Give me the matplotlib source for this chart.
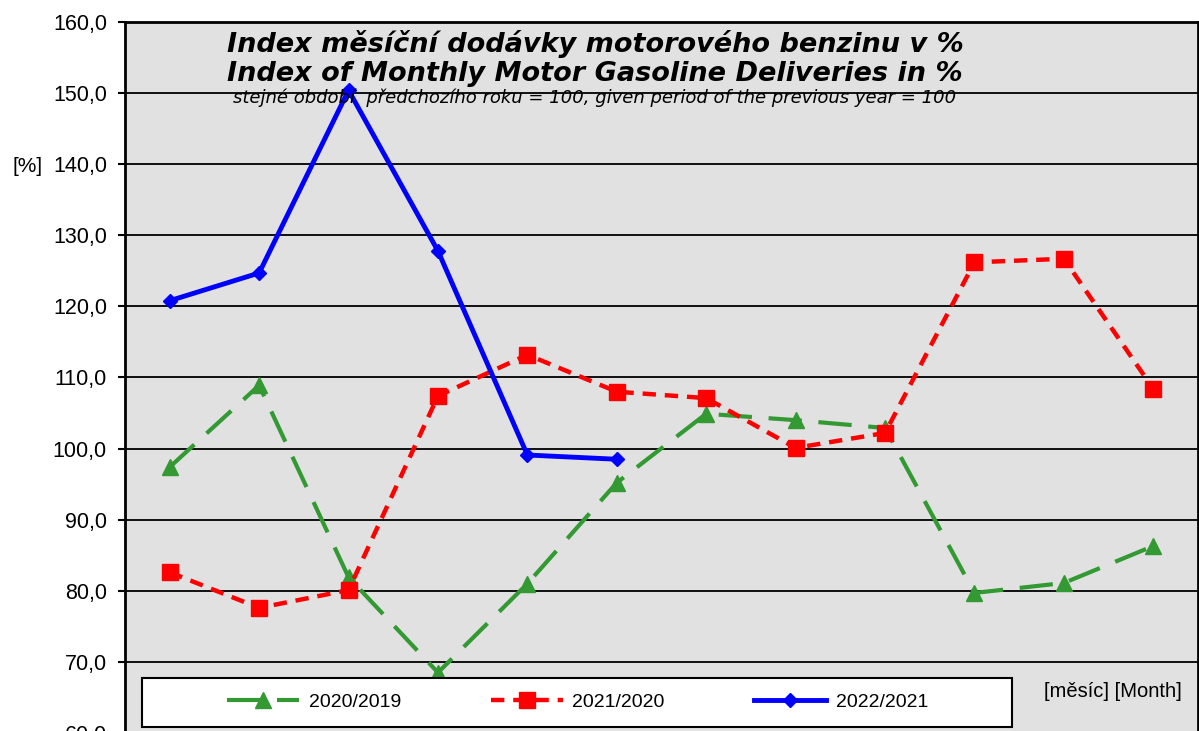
import numpy as np
import matplotlib.pyplot as plt
from matplotlib.patches import Rectangle

# months
months = np.arange(1, 13)

# index values, previous year = 100
idx_2020_2019 = [97.4, 108.9, 81.9, 68.5, 81.0, 95.2, 104.9, 104.0, 102.9, 79.7, 81.1, 86.3]
idx_2021_2020 = [82.6, 77.6, 80.1, 107.4, 113.2, 108.0, 107.1, 100.1, 102.2, 126.2, 126.7, 108.4]
idx_2022_2021 = [120.8, 124.7, 150.4, 127.8, 99.1, 98.5]

labels = ['2020/2019', '2021/2020', '2022/2021']
yticks = np.arange(60, 161, 10)

plt.rcParams['font.family'] = ['Liberation Sans', 'DejaVu Sans']

fig = plt.figure(figsize=(11.99, 7.31), dpi=100)
ax = fig.add_axes([125 / 1199, 1 - 733 / 731, 1073 / 1199, 711 / 731])
ax.set_facecolor('#e1e1e1')

ax.plot(months, idx_2020_2019, color='#339933', lw=3, dashes=(8, 4),
        marker='^', ms=12, label=labels[0])
ax.plot(months, idx_2021_2020, color='#ff0000', lw=3.2, dashes=(3, 2),
        marker='s', ms=11, label=labels[1])
ax.plot(months[:len(idx_2022_2021)], idx_2022_2021, color='#0000ff', lw=3.5,
        marker='D', ms=7, label=labels[2])

ax.set_xlim(0.5, 12.5)
ax.set_ylim(60, 160)
ax.set_yticks(yticks)
ax.set_yticklabels([f'{v:.1f}'.replace('.', ',') for v in yticks], fontsize=15.5)
ax.set_xticks([])
ax.yaxis.grid(True, color='black', lw=1.3)
ax.set_axisbelow(True)
ax.tick_params(axis='y', length=5, width=1.5, pad=8)
for s in ax.spines.values():
    s.set_linewidth(2)

# titles inside the plot area
title_font = ['DejaVu Sans']
ax.text(0.438, 0.969, 'Index měsíční dodávky motorového benzinu v %',
        transform=ax.transAxes, ha='center', va='center', fontsize=19.5,
        fontweight='bold', style='italic', family=title_font)
ax.text(0.438, 0.927, 'Index of Monthly Motor Gasoline Deliveries in %',
        transform=ax.transAxes, ha='center', va='center', fontsize=19.5,
        fontweight='bold', style='italic', family=title_font)
ax.text(0.438, 0.893, 'stejné období  předchozího roku = 100, given period of the previous year = 100',
        transform=ax.transAxes, ha='center', va='center', fontsize=13,
        style='italic', family=title_font)

fig.text(28 / 1199, 1 - 166 / 731, '[%]', ha='center', va='center', fontsize=15)
ax.text(0.985, 0.058, '[měsíc] [Month]', transform=ax.transAxes,
        ha='right', va='center', fontsize=14.5)

# legend box
ax.add_patch(Rectangle((0.016, 0.009), 0.811, 0.068, transform=ax.transAxes,
                       facecolor='white', edgecolor='black', lw=1.5, zorder=5))
leg = ax.legend(loc='center left', bbox_to_anchor=(0.079, 0.043), ncol=3,
                fontsize=14, frameon=False, handlelength=3.7, handletextpad=0.5,
                columnspacing=4.6)
leg.set_zorder(6)

fig.savefig('out.png', dpi=100)
